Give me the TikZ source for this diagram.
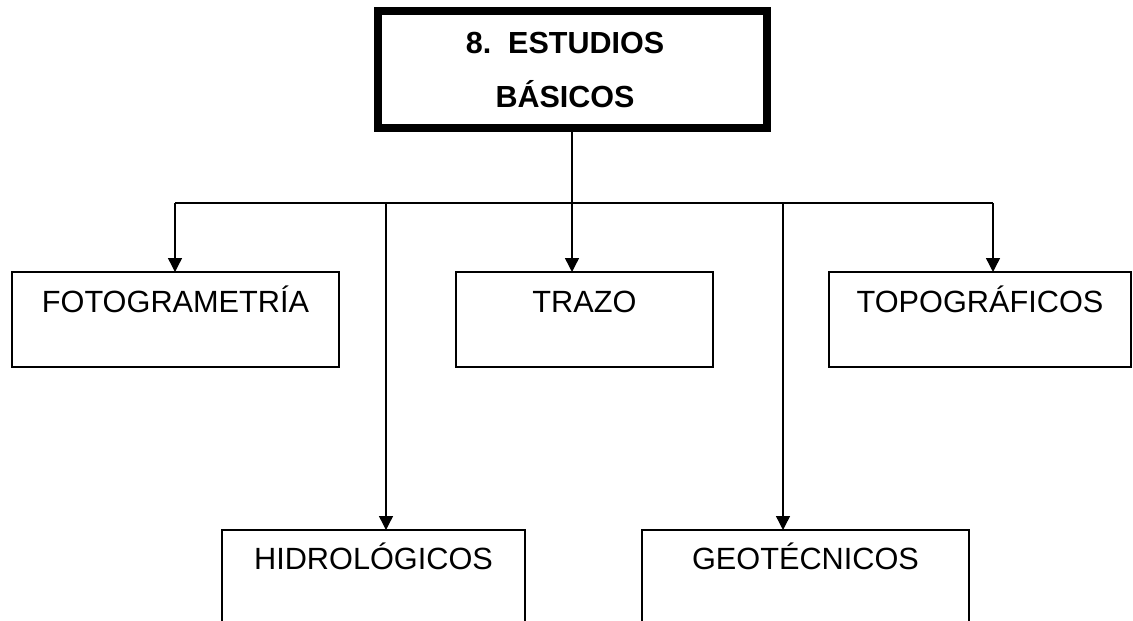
\documentclass[tikz,border=0pt]{standalone}
\usepackage{fontspec}
\setmainfont{Liberation Sans}
\usetikzlibrary{arrows.meta,calc}
\tikzset{
  titlebox/.style={draw, line width=8pt, inner sep=0pt, outer sep=0pt, anchor=north west},
  titletext/.style={anchor=base, inner sep=0pt, font=\fontsize{30.5}{36}\selectfont\bfseries},
  itembox/.style={draw, line width=1.4pt, inner sep=0pt, outer sep=0pt, anchor=north west,
    font=\fontsize{30.7}{36}\selectfont},
  upperrow/.style={text height=40pt, text depth=55pt},
  lowerrow/.style={text height=39pt, text depth=71pt},
  link/.style={line width=1.4pt},
  arr/.style={line width=1.4pt, -{Triangle[width=14pt,length=14pt]}}
}
\begin{document}
\begin{tikzpicture}[x=1pt,y=-1pt]
\useasboundingbox (0,0) rectangle (1133,621);
\clip (0,0) rectangle (1133,621);
\fill[white] (0,0) rectangle (1133,621);

% title box
\node[titlebox, minimum width=389pt, minimum height=117pt] (top) at (378,11) {};
\node[titletext] (t1) at (565,53) {8.\ \ ESTUDIOS};
\node[titletext] (t2) at (565,107) {BÁSICOS};

% item boxes
\node[itembox, upperrow, minimum width=327pt] (foto) at (12,272) {FOTOGRAMETRÍA};
\node[itembox, upperrow, minimum width=257pt] (trazo) at (456,272) {TRAZO};
\node[itembox, upperrow, minimum width=302pt] (topo) at (829,272) {TOPOGRÁFICOS};
\node[itembox, lowerrow, minimum width=303pt] (hidro) at (222,530) {HIDROLÓGICOS};
\node[itembox, lowerrow, minimum width=327pt] (geo) at (642,530) {GEOTÉCNICOS};

% junction coordinates on the distribution line
\coordinate (j0) at (572,203);
\coordinate (j1) at (175,203);
\coordinate (j2) at (386,203);
\coordinate (j3) at (572,203);
\coordinate (j4) at (783,203);
\coordinate (j5) at (993,203);

\draw[link] (top.south -| j0) -- (j0);
\draw[link] (j1) -- (j5);
\draw[arr] (j1) -- (j1 |- foto.north);
\draw[arr] (j2) -- (j2 |- hidro.north);
\draw[arr] (j3) -- (j3 |- trazo.north);
\draw[arr] (j4) -- (j4 |- geo.north);
\draw[arr] (j5) -- (j5 |- topo.north);
\end{tikzpicture}
\end{document}
